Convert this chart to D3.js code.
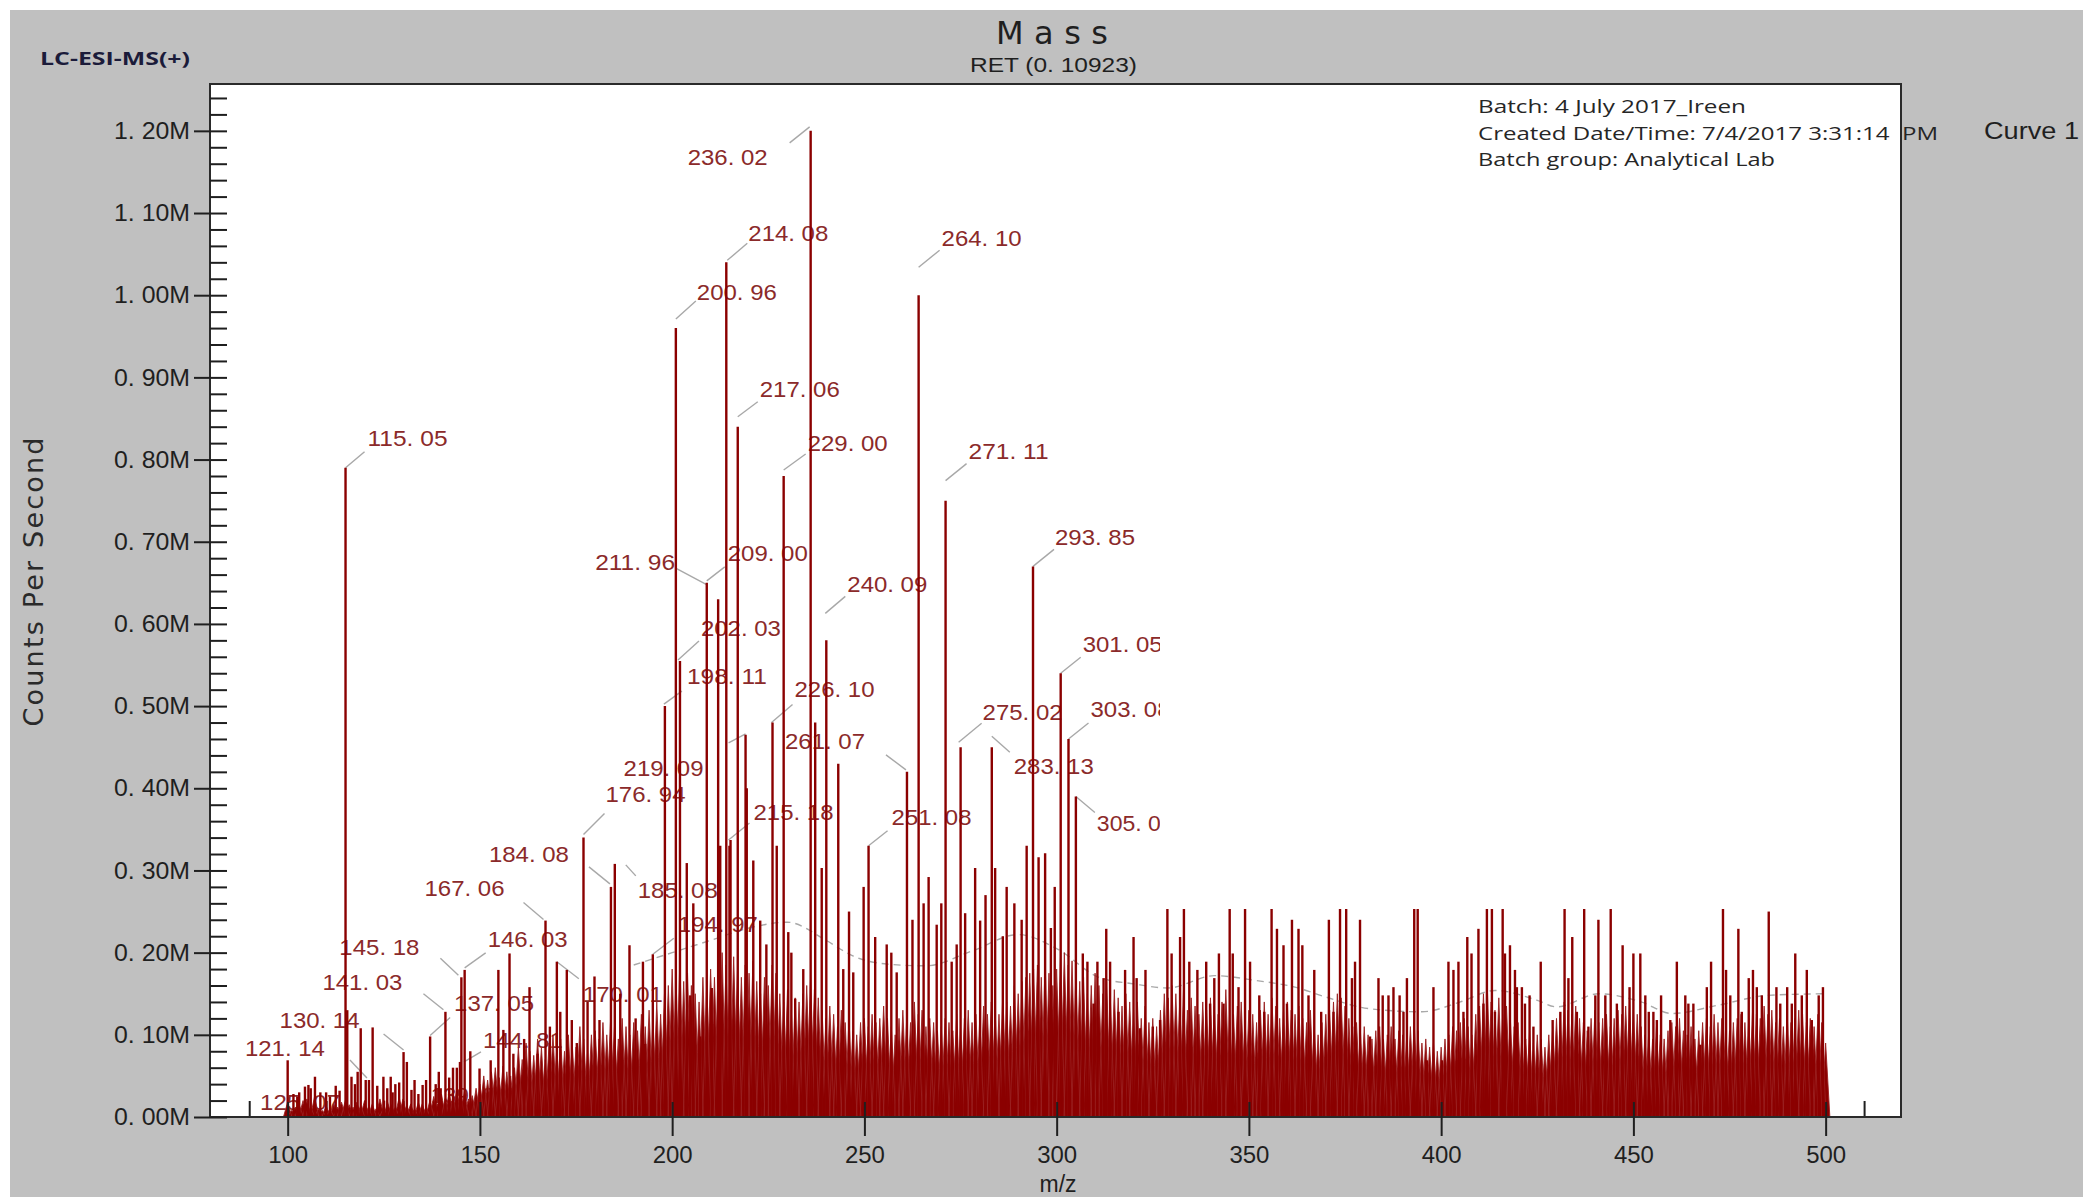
<!DOCTYPE html>
<html><head><meta charset="utf-8">
<script src="https://cdn.jsdelivr.net/npm/d3@7"></script>
<style>
html,body{margin:0;padding:0;background:#fff;}
svg{display:block;}
</style></head>
<body>
<svg id="chart" width="2083" height="1197"></svg>
<script>
// ---------------- DATA ----------------
// axis ticks
const xTicks = [100,150,200,250,300,350,400,450,500];
const xTickLabels = ["100","150","200","250","300","350","400","450","500"];
const yTicks = [0,100,200,300,400,500,600,700,800,900,1000,1100,1200]; // thousands of counts/s
const yTickLabels = ["0. 00M","0. 10M","0. 20M","0. 30M","0. 40M","0. 50M","0. 60M","0. 70M","0. 80M","0. 90M","1. 00M","1. 10M","1. 20M"];

// labelled peaks (m/z, intensity in thousands of counts/s)
const labelMz  = [115.05,236.02,214.08,200.96,264.10,217.06,229.00,271.11,293.85,211.96,209.00,240.09,202.03,198.11,226.10,301.05,303.08,305.00,275.02,283.13,261.07,219.09,176.94,215.18,251.08,184.08,185.08,167.06,194.97,146.03,145.18,141.03,137.05,130.14,121.14,144.81,170.01,139.80,125.07];
const labelInt = [790,1200,1040,960,1000,840,780,750,670,630,650,580,555,500,480,540,460,390,450,450,420,465,340,337,330,280,308,239,198,179,170,128,98,79,45,67,189,35,20];
const labelText = ["115. 05","236. 02","214. 08","200. 96","264. 10","217. 06","229. 00","271. 11","293. 85","211. 96","209. 00","240. 09","202. 03","198. 11","226. 10","301. 05","303. 08","305. 0","275. 02","283. 13","261. 07","219. 09","176. 94","215. 18","251. 08","184. 08","185. 08","167. 06","194. 97","146. 03","145. 18","141. 03","137. 05","130. 14","121. 14","144. 81","170. 01","139. 8","125. 07"];

// other visible spikes (m/z, intensity k)
const spikeMz = [100.0,101.5,102.5,103.0,104.5,105.4,106.0,107.1,108.5,110.0,111.0,112.5,113.5,115.5,116.6,117.5,118.2,119.0,120.3,122.1,123.3,124.9,125.9,126.8,127.3,128.0,129.0,131.0,132.2,133.0,134.0,135.1,136.0,138.5,139.3,142.0,143.0,144.0,147.5,149.9,152.8,154.8,156.1,157.7,158.7,161.5,162.9,165.0,168.2,170.9,172.6,173.9,175.2,178.0,179.8,181.1,186.5,188.9,190.5,192.4,
 193.0,203.8,204.7,205.5,207.3,210.3,212.5,214.9,219.4,221.1,222.9,224.5,227.2,230.2,231.0,232.0,234.1,237.2,238.9,243.2,244.5,246.0,247.1,249.8,252.8,255.8,257.0,258.4,262.5,265.4,266.7,268.8,270.0,272.7,274.0,276.2,278.8,280.1,281.5,284.0,286.0,287.0,289.0,290.9,292.2,295.3,297.0,298.5,299.5,
 306.8,308.0,309.6,310.6,312.2,312.9,313.9,316.1,317.8,320.0,320.8,321.7,323.1,325.0,326.9,328.8,329.9,332.1,333.1,334.5,336.6,338.9,339.9,341.0,342.2,343.4,345.0,345.8,347.3,349.0,350.3,352.7,354.0,355.9,357.3,359.0,359.9,361.2,362.9,363.9,365.5,367.0,368.8,370.8,372.0,373.7,375.3,376.8,377.6,378.9,381.5,383.7,384.8,386.3,387.6,389.2,390.2,391.1,393.0,393.9,396.3,398.0,400.2,401.9,403.2,404.5,
 405.8,406.8,407.9,409.7,411.0,411.9,413.2,414.0,416.0,416.6,417.9,419.2,419.7,421.0,421.8,423.0,424.0,425.9,429.0,431.0,432.1,433.1,434.1,435.3,437.2,438.3,440.1,440.9,442.7,444.1,445.7,447.2,449.0,450.0,451.8,453.1,454.0,455.2,456.1,457.2,459.6,461.3,463.5,464.3,465.6,467.4,469.1,470.2,473.3,474.1,475.2,477.3,478.2,480.0,481.1,482.1,483.4,485.2,487.2,488.2,490.0,491.2,492.1,493.8,495.1,496.4,498.2,499.3];
const spikeInt = [69,28,25,30,37,39,35,49,30,30,25,38,32,130,49,40,55,108,45,109,38,49,35,49,30,40,42,67,33,45,28,39,45,40,55,48,60,60,80,59,69,179,106,199,77,95,158,77,110,128,179,118,90,140,171,118,150,209,120,189,
 89,309,148,260,98,157,330,330,400,312,239,210,330,225,200,144,180,480,303,430,180,250,176,280,219,210,200,176,240,260,292,234,260,189,210,248,303,239,270,303,220,280,260,240,330,316,321,230,280,
 199,189,138,189,169,229,189,128,179,219,169,108,179,110,118,300,199,219,280,189,179,189,138,169,199,138,270,199,158,300,189,148,128,280,229,209,138,240,229,209,148,179,128,240,128,320,300,169,189,240,98,169,148,148,158,148,128,169,290,260,69,158,69,189,179,189,
 128,219,199,229,138,300,300,128,270,199,209,179,158,158,138,148,110,189,118,128,280,169,219,128,270,110,148,240,148,270,138,209,158,199,199,148,128,128,118,148,118,189,148,138,138,88,158,189,280,179,148,229,128,169,179,158,148,250,158,138,158,138,199,148,179,118,148,158];

// dense low-level signal, one value per m/z unit starting at 100 (k)
const noiseStart = 100;
const noiseInt = [
 18,8,12,15,20,22,12,25,10,8,
 14,10,16,12,18,20,15,12,18,14,
 20,12,16,10,22,12,18,15,12,24,
 22,14,16,10,18,16,12,20,25,16,
 28,22,30,25,35,28,32,22,26,35,
 40,50,45,55,60,48,62,55,50,60,
 85,70,90,80,75,95,85,70,90,100,
 85,95,80,100,90,85,110,95,80,100,
 105,95,115,100,120,110,95,120,110,100,
 115,105,125,110,130,120,140,125,150,160,
 180,170,190,165,175,160,150,140,170,165,
 180,170,190,200,185,175,195,180,170,185,
 175,190,165,150,170,160,185,175,150,140,
 155,130,145,140,150,160,170,155,145,130,
 120,135,125,110,130,115,120,105,100,115,
 120,110,125,115,120,135,120,110,100,120,
 130,120,115,140,125,130,110,120,115,105,
 110,120,115,105,125,110,120,130,115,125,
 120,135,125,140,130,125,150,140,135,160,
 150,165,170,175,180,185,170,190,175,160,
 180,195,200,185,190,175,165,170,150,160,
 175,160,150,165,140,155,145,135,150,140,
 130,140,120,135,115,120,110,130,150,145,
 160,150,140,155,130,145,135,125,140,130,
 145,135,125,140,155,130,125,135,140,120,
 130,125,115,130,140,125,145,135,120,130,
 140,130,125,135,120,115,130,110,100,115,
 125,130,140,150,145,135,120,110,115,105,
 110,100,95,105,110,95,100,110,95,105,
 100,95,110,115,105,90,95,85,90,80,
 85,95,100,110,105,115,120,110,100,125,
 135,150,160,140,130,145,125,135,120,110,
 115,100,95,105,90,100,95,85,100,110,
 120,125,140,130,125,135,120,115,105,120,
 130,115,120,125,110,120,130,125,135,140,
 130,125,110,100,105,95,110,100,95,105,
 115,110,120,105,100,110,95,105,115,120,
 110,125,115,120,110,105,115,120,125,115,
 120,130,125,120,135,125,130,115,120,110,
 125,115,120,130,125,115,120,110,125,115,
 90];

// faint dashed trace
const curveMz  = [190,200,210,220,230,240,247,256,266,278,290,300,311,320,329,341,352,362,370,381,395,405,414,425,430,441,452,460,472,485,500];
const curveInt = [185,200,215,230,237,215,196,186,184,202,222,205,170,162,157,172,166,158,146,132,128,140,154,142,134,150,140,126,136,148,150];

// ---------------- LAYOUT (pixels) ----------------
// [textDx, textDy, anchor, leaderX1, leaderY1, leaderX2, leaderY2] relative to peak top
const labelLayout = [
 [22,-29,'s',0,0,19,-16],[-43,26,'e',-21,12,-1,-4],[22,-29,'s',1,-2,21,-19],[21,-36,'s',0,-9,20,-27],
 [23,-57,'s',0,-28,21,-45],[22,-37,'s',0,-10,20,-25],[24,-33,'s',0,-6,22,-22],[23,-49,'s',0,-20,21,-37],
 [22,-29,'s',0,0,21,-17],[-43,-37,'e',-42,-31,-12,-15],[21,-30,'s',0,-2,18,-16],[21,-56,'s',-1,-27,19,-44],
 [21,-33,'s',-2,-1,19,-20],[22,-30,'s',-1,-2,17,-15],[22,-33,'s',-1,0,20,-18],[22,-29,'s',0,0,20,-16],
 [22,-30,'s',0,0,20,-16],[21,27,'s',0,0,19,16],[22,-35,'s',-2,-5,21,-24],[22,19,'s',0,-11,18,5],
 [-42,-31,'e',-21,-17,-1,-2],[-42,33,'e',-17,8,0,-1],[22,-43,'s',0,-3,21,-24],[23,-28,'s',-2,0,19,-17],
 [23,-29,'s',0,0,19,-15],[-42,-33,'e',-22,-20,-1,-3],[23,26,'s',11,1,21,12],[-41,-32,'e',-22,-18,-2,-1],
 [25,-30,'s',0,0,21,-16],[23,-31,'s',0,-2,21,-17],[-42,-30,'e',-21,-19,-3,-2],[-43,-30,'e',-22,-18,-2,-2],
 [24,-33,'s',0,-1,20,-19],[-44,-32,'e',-20,-18,0,-2],[-44,-32,'e',-19,-20,-2,-2],[23,-22,'s',4,0,21,-10],
 [26,33,'s',0,0,22,17],[-10,7,'s',null,0,0,0],[-124,2,'s',null,0,0,0]
];

const W = 2083, H = 1197;
const P = {l:210, r:1901, t:84, b:1117};
const RED = '#8b0000';
const AX = '#1f1f1f';
const tickFont = '"Liberation Sans", Arial, sans-serif';

const svg = d3.select('#chart');
svg.append('rect').attr('width',W).attr('height',H).attr('fill','#ffffff');
svg.append('rect').attr('x',10).attr('y',10).attr('width',W-10).attr('height',H-10).attr('fill','#c0c0c0');
svg.append('rect').attr('x',P.l).attr('y',P.t).attr('width',P.r-P.l).attr('height',P.b-P.t).attr('fill','#ffffff');

const x = d3.scaleLinear().domain([79.8,519.6]).range([P.l,P.r]);
const y = d3.scaleLinear().domain([0,1257]).range([P.b,P.t]);

// minor x ticks (under data)
const xMinor = d3.range(90,511,10).filter(v => v % 50 !== 0);
svg.append('g').attr('transform',`translate(0,${P.b})`)
  .call(d3.axisTop(x).tickValues(xMinor).tickSize(16).tickFormat(''))
  .call(g => g.select('.domain').remove())
  .selectAll('line').attr('stroke',AX).attr('stroke-width',2);

// dashed trace
svg.append('path').datum(d3.zip(curveMz,curveInt))
  .attr('d', d3.line().x(d=>x(d[0])).y(d=>y(d[1])).curve(d3.curveMonotoneX))
  .attr('fill','none').attr('stroke','#a9a9a9').attr('stroke-width',1.4).attr('stroke-dasharray','7,5');

// labels + leaders (under the spectrum)
const lg = svg.append('g');
labelMz.forEach((m,i) => {
  const px = x(m), py = y(labelInt[i]), L = labelLayout[i];
  if (L[3] !== null) {
    lg.append('line').attr('x1',px+L[3]).attr('y1',py+L[4]).attr('x2',px+L[5]).attr('y2',py+L[6])
      .attr('stroke','#a8a8a8').attr('stroke-width',1.4);
  }
  const t = labelText[i];
  lg.append('text').attr('x',px+L[0]).attr('y',py+L[1]).attr('dy','0.35em')
    .attr('text-anchor', L[2]==='e' ? 'end' : 'start')
    .attr('font-family',tickFont).attr('font-size',22)
    .attr('textLength', t.length >= 7 ? 80 : 64).attr('lengthAdjust','spacingAndGlyphs')
    .attr('fill','#8b2a2a').text(t);
});

// dense signal as narrow profile peaks
const halfW = 1.1;
let dn = '';
noiseInt.forEach((v,i) => {
  const m = noiseStart + i;
  dn += `M${x(m-halfW)},${P.b}L${x(m)},${y(v)}L${x(m+halfW)},${P.b}Z`;
});
svg.append('path').attr('d',dn).attr('fill',RED).attr('stroke','#9a2020').attr('stroke-width',0.9);

// spikes
const allSpikes = d3.zip(spikeMz,spikeInt).concat(d3.zip(labelMz,labelInt));
svg.append('g').selectAll('line').data(allSpikes).join('line')
  .attr('x1',d=>x(d[0])).attr('x2',d=>x(d[0]))
  .attr('y1',P.b).attr('y2',d=>y(d[1]))
  .attr('stroke',RED).attr('stroke-width',2.4);

// blank overlay present in the original screenshot
svg.append('rect').attr('x',1160).attr('y',P.t).attr('width',P.r-1160).attr('height',909-P.t).attr('fill','#ffffff');

// header texts
svg.append('text').attr('x',996).attr('y',44).attr('font-family','"DejaVu Sans", sans-serif').attr('font-size',32)
  .attr('textLength',112).attr('lengthAdjust','spacing').attr('fill',AX).text('Mass');
svg.append('text').attr('x',970).attr('y',72).attr('font-family',tickFont).attr('font-size',21)
  .attr('textLength',167).attr('lengthAdjust','spacingAndGlyphs').attr('fill',AX).text('RET (0. 10923)');
svg.append('text').attr('x',40).attr('y',65).attr('font-family','"Open Sans", sans-serif').attr('font-weight','bold').attr('font-size',18)
  .attr('textLength',150).attr('lengthAdjust','spacingAndGlyphs').attr('fill','#1b1b3a').text('LC-ESI-MS(+)');

const infoLines = ['Batch: 4 July 2017_Ireen','Created Date/Time: 7/4/2017 3:31:14  PM','Batch group: Analytical Lab'];
const infoW = [268,460,297];
const infoY = [113,140,166];
infoLines.forEach((t,i)=>{
  svg.append('text').attr('x',1478).attr('y',infoY[i]).attr('font-family','"Open Sans", sans-serif').attr('font-size',19)
    .attr('textLength',infoW[i]).attr('lengthAdjust','spacingAndGlyphs').attr('fill','#262626').style('white-space','pre').text(t);
});
svg.append('text').attr('x',1984).attr('y',139).attr('font-family',tickFont).attr('font-size',23)
  .attr('textLength',95).attr('lengthAdjust','spacingAndGlyphs').attr('fill',AX).text('Curve 1');

// frame
svg.append('rect').attr('x',P.l).attr('y',P.t).attr('width',P.r-P.l).attr('height',P.b-P.t)
  .attr('fill','none').attr('stroke','#2a2a2a').attr('stroke-width',2);

// y axis
const ya = svg.append('g').attr('transform',`translate(${P.l},0)`)
  .call(d3.axisLeft(y).tickValues(yTicks).tickSize(16).tickPadding(4).tickFormat((d,i)=>yTickLabels[i]));
ya.select('.domain').remove();
ya.selectAll('.tick line').attr('stroke',AX).attr('stroke-width',2);
ya.selectAll('.tick').append('line').attr('x1',0).attr('x2',17).attr('stroke',AX).attr('stroke-width',2);
ya.selectAll('.tick text').attr('font-family',tickFont).attr('font-size',24)
  .attr('textLength',76).attr('lengthAdjust','spacingAndGlyphs').attr('fill',AX);
const yMinor = d3.range(20,1257,20).filter(v => v % 100 !== 0);
svg.append('g').attr('transform',`translate(${P.l},0)`)
  .call(d3.axisRight(y).tickValues(yMinor).tickSize(17).tickFormat(''))
  .call(g => g.select('.domain').remove())
  .selectAll('line').attr('stroke',AX).attr('stroke-width',2);

// x axis
const xa = svg.append('g').attr('transform',`translate(0,${P.b})`)
  .call(d3.axisBottom(x).tickValues(xTicks).tickSize(19).tickFormat((d,i)=>xTickLabels[i]));
xa.select('.domain').remove();
xa.selectAll('.tick line').attr('stroke',AX).attr('stroke-width',2);
xa.selectAll('.tick').append('line').attr('y1',0).attr('y2',-15).attr('stroke',AX).attr('stroke-width',2);
xa.selectAll('.tick text').attr('y',38).attr('dy','0.35em').attr('font-family',tickFont).attr('font-size',24)
  .attr('textLength',40).attr('lengthAdjust','spacingAndGlyphs').attr('fill',AX);

// axis titles
svg.append('text').attr('x',1058).attr('y',1192).attr('text-anchor','middle').attr('font-family',tickFont).attr('font-size',23)
  .attr('fill',AX).text('m/z');
svg.append('text').attr('transform','translate(43,582) rotate(-90)').attr('text-anchor','middle')
  .attr('font-family','"DejaVu Sans", sans-serif').attr('font-size',27).attr('textLength',289).attr('lengthAdjust','spacing')
  .attr('fill','#2a2a2a').text('Counts Per Second');
</script>
</body></html>
